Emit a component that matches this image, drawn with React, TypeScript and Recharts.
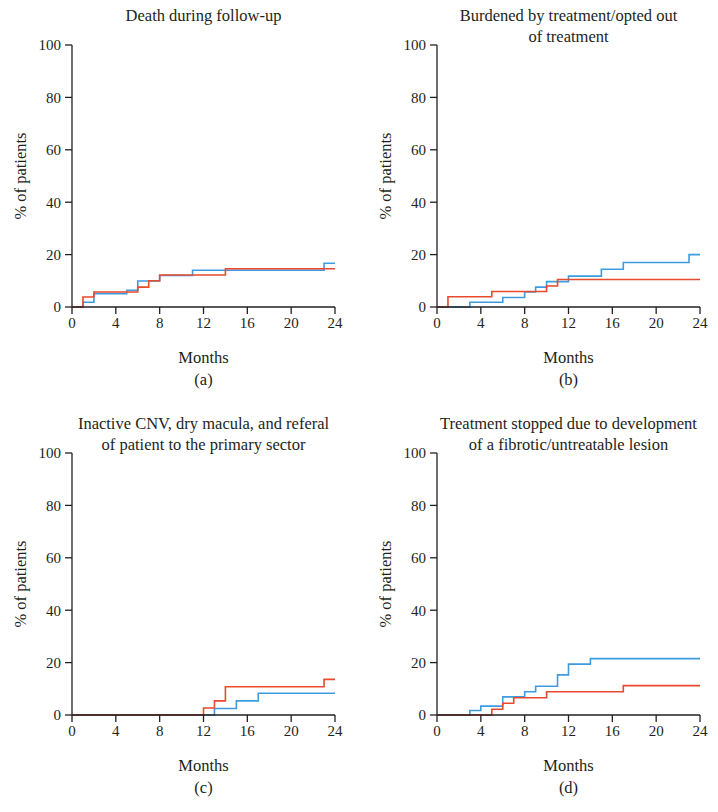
import React from 'react';
import { LineChart, Line, XAxis, YAxis, Label } from 'recharts';

// Panel (a) Death during follow-up
const deathBlueMonths = [0, 1, 2, 5, 6, 8, 11, 23, 24];
const deathBlueValues = [0, 1.8, 5.1, 6.4, 9.9, 12.0, 14.0, 16.7, 16.7];
const deathRedMonths = [0, 1, 2, 6, 7, 8, 14, 24];
const deathRedValues = [0, 3.8, 5.7, 7.6, 10.0, 12.2, 14.6, 14.6];

// Panel (b) Burdened by treatment/opted out of treatment
const burdenBlueMonths = [0, 3, 6, 8, 9, 10, 12, 15, 17, 23, 24];
const burdenBlueValues = [0, 1.8, 3.6, 5.7, 7.6, 9.7, 11.8, 14.4, 17.0, 20.0, 20.0];
const burdenRedMonths = [0, 1, 5, 10, 11, 24];
const burdenRedValues = [0, 3.9, 5.9, 8.0, 10.5, 10.5];

// Panel (c) Inactive CNV
const inactiveBlueMonths = [0, 13, 15, 17, 24];
const inactiveBlueValues = [0, 2.5, 5.4, 8.3, 8.3];
const inactiveRedMonths = [0, 12, 13, 14, 23, 24];
const inactiveRedValues = [0, 2.7, 5.4, 10.8, 13.6, 13.6];

// Panel (d) Treatment stopped, fibrotic lesion
const fibroticBlueMonths = [0, 3, 4, 6, 8, 9, 11, 12, 14, 24];
const fibroticBlueValues = [0, 1.7, 3.4, 6.9, 8.9, 11.0, 15.3, 19.4, 21.5, 21.5];
const fibroticRedMonths = [0, 5, 6, 7, 10, 17, 24];
const fibroticRedValues = [0, 2.2, 4.5, 6.6, 8.9, 11.2, 11.2];

const monthTicks = [0, 4, 8, 12, 16, 20, 24];
const percentTicks = [0, 20, 40, 60, 80, 100];

const panelTitles = [
  ['Death during follow-up'],
  ['Burdened by treatment/opted out', 'of treatment'],
  ['Inactive CNV, dry macula, and referal', 'of patient to the primary sector'],
  ['Treatment stopped due to development', 'of a fibrotic/untreatable lesion'],
];
const panelCaptions = ['(a)', '(b)', '(c)', '(d)'];

const toPoints = (months: number[], values: number[]) =>
  months.map((m, i) => ({ month: m, value: values[i] }));

const BLUE = '#3d9be0';
const RED = '#e9492c';
const AXIS = '#231f20';
const FONT = '"Liberation Serif", "Times New Roman", serif';
const TEXT_SIZE = 16.5;
const TICK_SIZE = 15;

interface PanelProps {
  left: number;
  top: number;
  title: string[];
  caption: string;
  blue: { month: number; value: number }[];
  red: { month: number; value: number }[];
}

const CHART_W = 360;
const CHART_H = 400;
const PLOT_LEFT = 72;
const PLOT_RIGHT = 335;

function Panel({ left, top, title, caption, blue, red }: PanelProps) {
  const center = (PLOT_LEFT + PLOT_RIGHT) / 2;
  return (
    <div style={{ position: 'absolute', left, top, width: CHART_W, height: CHART_H }}>
      <div
        style={{
          position: 'absolute',
          left: center - 170,
          width: 340,
          top: 5,
          textAlign: 'center',
          fontFamily: FONT,
          fontSize: TEXT_SIZE,
          lineHeight: '21px',
          color: AXIS,
        }}
      >
        {title.map((t, i) => (
          <div key={i}>{t}</div>
        ))}
      </div>
      <LineChart
        width={CHART_W}
        height={CHART_H}
        margin={{ top: 45, right: CHART_W - PLOT_RIGHT, bottom: 0, left: 0 }}
        style={{ fontFamily: FONT }}
      >
        <XAxis
          dataKey="month"
          type="number"
          domain={[0, 24]}
          ticks={monthTicks}
          height={93}
          tickSize={7}
          tickMargin={3}
          stroke={AXIS}
          strokeWidth={1.3}
          tick={{ fill: AXIS, fontSize: TICK_SIZE, fontFamily: FONT }}
        >
          <Label
            value="Months"
            position="insideTop"
            offset={44}
            style={{ fill: AXIS, fontSize: TEXT_SIZE, fontFamily: FONT }}
          />
        </XAxis>
        <YAxis
          type="number"
          domain={[0, 100]}
          ticks={percentTicks}
          width={PLOT_LEFT}
          tickSize={7}
          tickMargin={4}
          stroke={AXIS}
          strokeWidth={1.3}
          tick={{ fill: AXIS, fontSize: TICK_SIZE, fontFamily: FONT }}
        >
          <Label
            value="% of patients"
            angle={-90}
            position="insideLeft"
            offset={20}
            style={{ fill: AXIS, fontSize: TEXT_SIZE, fontFamily: FONT, textAnchor: 'middle' }}
          />
        </YAxis>
        <Line
          data={blue}
          dataKey="value"
          type="stepAfter"
          stroke={BLUE}
          strokeWidth={1.6}
          dot={false}
          isAnimationActive={false}
        />
        <Line
          data={red}
          dataKey="value"
          type="stepAfter"
          stroke={RED}
          strokeWidth={1.6}
          dot={false}
          isAnimationActive={false}
        />
      </LineChart>
      <div
        style={{
          position: 'absolute',
          left: center - 50,
          width: 100,
          top: 370,
          textAlign: 'center',
          fontFamily: FONT,
          fontSize: TEXT_SIZE,
          lineHeight: '20px',
          color: AXIS,
        }}
      >
        {caption}
      </div>
    </div>
  );
}

export default function App() {
  return (
    <div
      style={{
        position: 'absolute',
        left: 0,
        top: 0,
        width: 718,
        height: 812,
        background: '#ffffff',
        overflow: 'hidden',
      }}
    >
      <Panel
        left={0}
        top={0}
        title={panelTitles[0]}
        caption={panelCaptions[0]}
        blue={toPoints(deathBlueMonths, deathBlueValues)}
        red={toPoints(deathRedMonths, deathRedValues)}
      />
      <Panel
        left={365}
        top={0}
        title={panelTitles[1]}
        caption={panelCaptions[1]}
        blue={toPoints(burdenBlueMonths, burdenBlueValues)}
        red={toPoints(burdenRedMonths, burdenRedValues)}
      />
      <Panel
        left={0}
        top={408}
        title={panelTitles[2]}
        caption={panelCaptions[2]}
        blue={toPoints(inactiveBlueMonths, inactiveBlueValues)}
        red={toPoints(inactiveRedMonths, inactiveRedValues)}
      />
      <Panel
        left={365}
        top={408}
        title={panelTitles[3]}
        caption={panelCaptions[3]}
        blue={toPoints(fibroticBlueMonths, fibroticBlueValues)}
        red={toPoints(fibroticRedMonths, fibroticRedValues)}
      />
    </div>
  );
}
